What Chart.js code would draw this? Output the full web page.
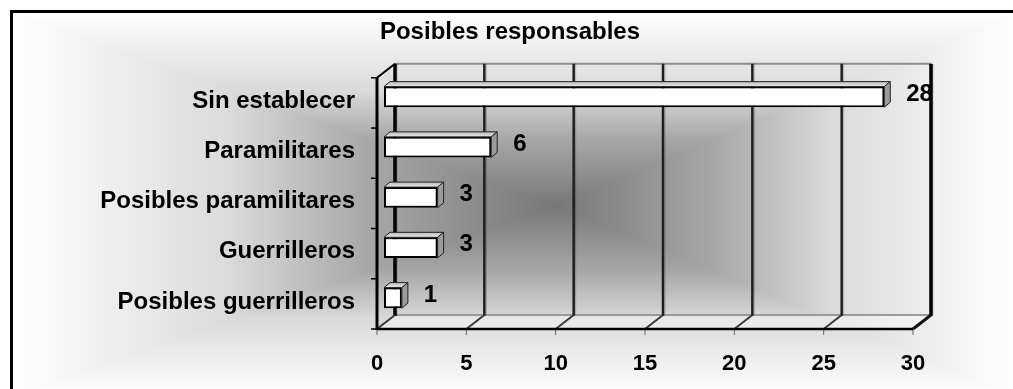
<!DOCTYPE html>
<html>
<head>
<meta charset="utf-8">
<script src="https://cdn.jsdelivr.net/npm/chart.js@4.4.1/dist/chart.umd.min.js"></script>
<style>
  html, body { margin: 0; padding: 0; background: #fff; }
  canvas { display: block; }
</style>
</head>
<body>
<canvas id="chart" width="1013" height="389"></canvas>
<script>
// Categories and counts
const categories = ['Sin establecer', 'Paramilitares', 'Posibles paramilitares', 'Guerrilleros', 'Posibles guerrilleros'];
const responsables = [28, 6, 3, 3, 1];
const valueMin = 0;
const valueMax = 30;
const valueStep = 5;
const chartTitle = 'Posibles responsables';

const FONT = '"Liberation Sans", Arial, sans-serif';

// Offsets of the pseudo-3D planes, relative to the plane the bars sit in
const FRONT = { dx: -7, dy: 6 };
const BACK = { dx: 11, dy: -8 };
const BAR_DEPTH = { dx: 6, dy: -5 };

// Rectangular "from centre" grey fill of the chart box, plus its black frame
const backdrop = {
  id: 'backdrop',
  beforeDraw(chart) {
    const { ctx, width: W, height: H } = chart;
    const L = 13, T = 13, R = W + 2, B = H + 6, cx = 555, cy = 205;
    const stops = [[0, 120], [0.35, 168], [0.6, 218], [1, 255]];
    const ramp = t => {
      t = Math.max(0, Math.min(1, t));
      for (let i = 1; i < stops.length; i++) {
        if (t <= stops[i][0]) {
          const [t0, c0] = stops[i - 1], [t1, c1] = stops[i];
          return c0 + (c1 - c0) * (t - t0) / (t1 - t0);
        }
      }
      return 255;
    };
    const off = document.createElement('canvas');
    off.width = W; off.height = H;
    const octx = off.getContext('2d');
    const img = octx.createImageData(W, H);
    for (let y = 0; y < H; y++) {
      for (let x = 0; x < W; x++) {
        let c = 255;
        if (x >= L && y >= T) {
          const tx = x < cx ? (cx - x) / (cx - L) : (x - cx) / (R - cx);
          const ty = y < cy ? (cy - y) / (cy - T) : (y - cy) / (B - cy);
          c = Math.round(ramp(Math.max(tx, ty)));
        }
        const k = (y * W + x) * 4;
        img.data[k] = img.data[k + 1] = img.data[k + 2] = c;
        img.data[k + 3] = 255;
      }
    }
    octx.putImageData(img, 0, 0);
    ctx.save();
    ctx.drawImage(off, 0, 0, W, H);
    ctx.strokeStyle = '#000';
    ctx.lineWidth = 3;
    ctx.strokeRect(11.5, 11.5, W + 20, H + 20);
    ctx.restore();
  }
};

function line(ctx, x1, y1, x2, y2, color, width) {
  ctx.beginPath();
  ctx.moveTo(x1, y1);
  ctx.lineTo(x2, y2);
  ctx.strokeStyle = color;
  ctx.lineWidth = width;
  ctx.stroke();
}

function poly(ctx, pts, fill, stroke) {
  ctx.beginPath();
  ctx.moveTo(pts[0][0], pts[0][1]);
  for (let i = 1; i < pts.length; i++) ctx.lineTo(pts[i][0], pts[i][1]);
  ctx.closePath();
  ctx.fillStyle = fill;
  ctx.fill();
  ctx.strokeStyle = stroke;
  ctx.lineWidth = 1;
  ctx.stroke();
}

// Walls, floor, gridlines and axis lines of the 3D box
const frame3d = {
  id: 'frame3d',
  beforeDatasetsDraw(chart) {
    const { ctx, chartArea: a, scales: { x } } = chart;
    const values = x.ticks.map(t => t.value);
    const fx = v => x.getPixelForValue(v) + FRONT.dx;
    const bx = v => x.getPixelForValue(v) + BACK.dx;
    const fTop = a.top + FRONT.dy, fBot = a.bottom + FRONT.dy;
    const bTop = a.top + BACK.dy, bBot = a.bottom + BACK.dy;
    ctx.save();
    ctx.lineCap = 'butt';
    // floor
    poly(ctx, [[fx(valueMin), fBot], [fx(valueMax), fBot], [bx(valueMax), bBot], [bx(valueMin), bBot]],
      'rgba(255,255,255,0.4)', 'rgba(0,0,0,0)');
    // back wall edges
    line(ctx, bx(valueMin), bTop, bx(valueMax), bTop, '#8c8c8c', 2);
    line(ctx, bx(valueMin), bBot, bx(valueMax), bBot, '#9a9a9a', 2);
    // gridlines on the back wall and across the floor
    values.forEach(v => {
      const edge = v === valueMin || v === valueMax;
      line(ctx, bx(v) + 2, bTop, bx(v) + 2, bBot, 'rgba(0,0,0,0.22)', 1);
      line(ctx, bx(v), bTop, bx(v), bBot + 1, edge ? '#000' : '#1e1e1e', edge ? 3.5 : 2.5);
      line(ctx, fx(v), fBot, bx(v), bBot, v === valueMax ? '#111' : '#3a3a3a', v === valueMax ? 3 : 2);
      // value tick marks below the front axis
      line(ctx, fx(v), fBot, fx(v), fBot + 6, '#666', 1);
    });
    // left side wall top edge and front axes
    line(ctx, fx(valueMin), fTop, bx(valueMin), bTop, '#000', 2);
    line(ctx, fx(valueMin), fTop, fx(valueMin), fBot + 1, '#000', 3);
    line(ctx, fx(valueMin), fBot, fx(valueMax), fBot, '#000', 2.5);
    // category tick marks
    const n = categories.length;
    for (let i = 0; i <= n; i++) {
      const y = a.top + i * (a.height / n) + FRONT.dy;
      line(ctx, fx(valueMin) - 6, y, fx(valueMin), y, '#000', 1.5);
    }
    ctx.restore();
  },
  afterDatasetsDraw(chart) {
    const { ctx } = chart;
    const meta = chart.getDatasetMeta(0);
    const data = chart.data.datasets[0].data;
    ctx.save();
    meta.data.forEach((bar, i) => {
      const { x: xe, y, base, height } = bar.getProps(['x', 'y', 'base', 'height'], true);
      const top = y - height / 2, bot = y + height / 2;
      const g = ctx.createLinearGradient(0, top + BAR_DEPTH.dy, 0, top);
      g.addColorStop(0, '#bdbdbd');
      g.addColorStop(1, '#e6e6e6');
      poly(ctx, [[base, top], [xe, top], [xe + BAR_DEPTH.dx, top + BAR_DEPTH.dy], [base + BAR_DEPTH.dx, top + BAR_DEPTH.dy]], g, '#222');
      poly(ctx, [[xe, top], [xe + BAR_DEPTH.dx, top + BAR_DEPTH.dy], [xe + BAR_DEPTH.dx, bot + BAR_DEPTH.dy], [xe, bot]], '#9b9b9b', '#222');
      // value label
      ctx.fillStyle = '#000';
      ctx.font = 'bold 24px ' + FONT;
      ctx.textAlign = 'left';
      ctx.textBaseline = 'middle';
      ctx.fillText(String(data[i]), xe + 22, y - 3);
    });
    ctx.restore();
  }
};

new Chart(document.getElementById('chart'), {
  type: 'bar',
  data: {
    labels: categories,
    datasets: [{
      data: responsables,
      backgroundColor: '#ffffff',
      borderColor: '#000000',
      borderWidth: 2,
      borderSkipped: false,
      barPercentage: 0.41,
      categoryPercentage: 1
    }]
  },
  options: {
    indexAxis: 'y',
    responsive: false,
    animation: false,
    devicePixelRatio: 1,
    layout: { padding: { left: 100, right: 93, top: 0, bottom: 0 } },
    plugins: {
      legend: { display: false },
      tooltip: { enabled: false },
      title: {
        display: true,
        text: chartTitle,
        color: '#000',
        font: { family: FONT, size: 24, weight: 'bold' },
        padding: { top: 18, bottom: 25 }
      }
    },
    scales: {
      x: {
        min: valueMin,
        max: valueMax,
        grid: { display: false, drawTicks: false },
        border: { display: false },
        ticks: {
          stepSize: valueStep,
          color: '#000',
          font: { family: FONT, size: 22, weight: 'bold' },
          padding: 28,
          labelOffset: FRONT.dx,
          maxRotation: 0
        },
        afterFit(scale) { scale.height = 66; }
      },
      y: {
        grid: { display: false, drawTicks: false },
        border: { display: false },
        ticks: {
          color: '#000',
          font: { family: FONT, size: 24, weight: 'bold' },
          padding: 29,
          labelOffset: 4
        },
        afterFit(scale) { scale.width = 284; }
      }
    }
  },
  plugins: [backdrop, frame3d]
});
</script>
</body>
</html>
